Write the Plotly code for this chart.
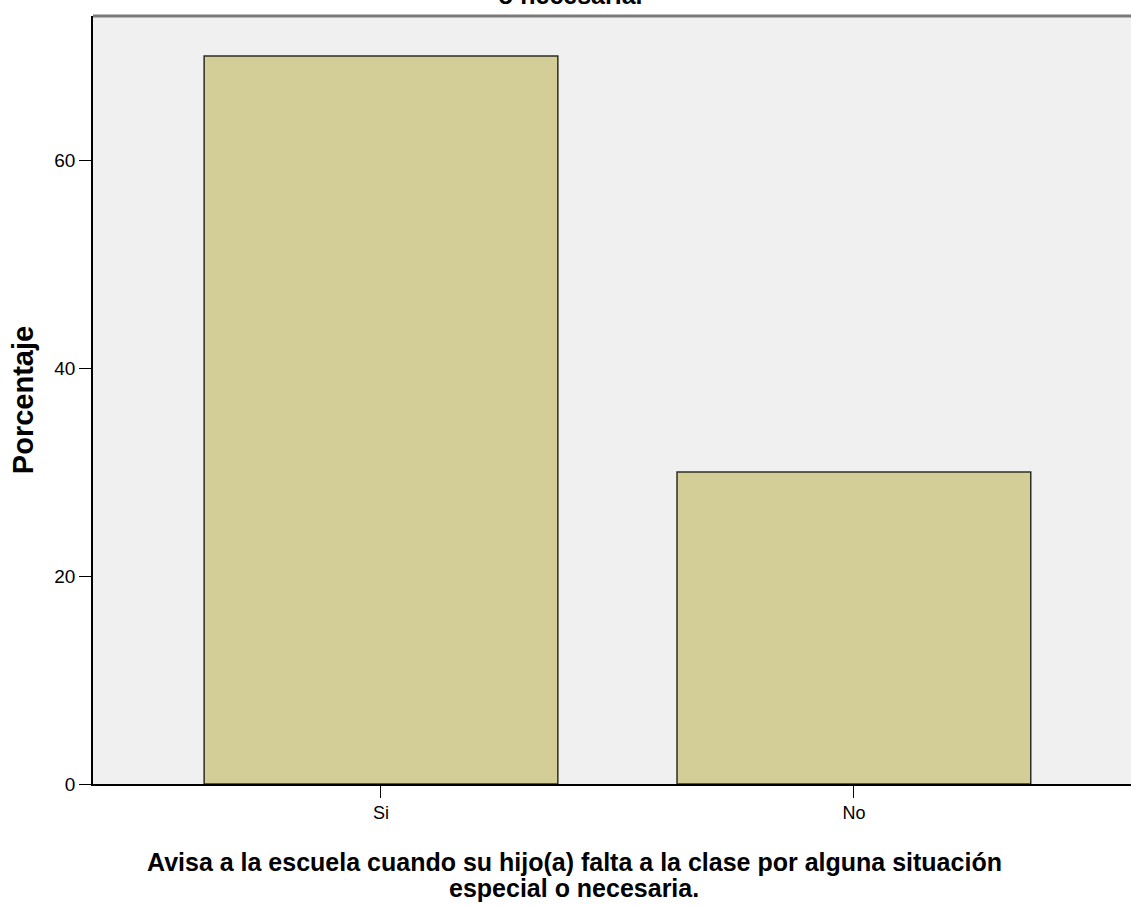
import plotly.graph_objects as go

categories = ["Si", "No"]
percentages = [70.0, 30.0]
y_ticks = [0, 20, 40, 60]

x_title_lines = ["Avisa a la escuela cuando su hijo(a) falta a la clase por alguna situación",
                 "especial o necesaria."]
top_title = "Avisa a la escuela cuando su hijo(a) falta a la clase por alguna situación especial<br>o necesaria."

W, H = 1131, 906
ml, mr, mt, mb = 93, 0, 16, 122
FONT = "Liberation Sans, Arial, sans-serif"

fig = go.Figure(go.Bar(
    x=categories, y=percentages, width=0.748,
    marker=dict(color="#D3CE97", line=dict(color="#2E2E22", width=1.5)),
))

x_center = (574 - ml) / (W - ml)

fig.update_layout(
    width=W, height=H,
    margin=dict(l=ml, r=mr, t=mt, b=mb, pad=0),
    paper_bgcolor="white", plot_bgcolor="#F0F0F0",
    showlegend=False,
    font=dict(family=FONT, color="black"),
    xaxis=dict(
        range=[-0.609, 1.586], showgrid=False, zeroline=False,
        showline=True, linecolor="black", linewidth=1.5,
        ticks="outside", ticklen=12, tickcolor="black", tickwidth=1.2,
        tickfont=dict(size=18),
    ),
    yaxis=dict(
        range=[0, 73.85], showgrid=False, zeroline=False,
        showline=True, linecolor="black", linewidth=1.5,
        tickvals=y_ticks, ticks="outside", ticklen=12, tickcolor="black", tickwidth=1.2,
        tickfont=dict(size=19),
        title=dict(text="Porcentaje", font=dict(size=29, weight="bold"), standoff=12),
    ),
    shapes=[dict(type="line", xref="paper", yref="paper", x0=0, x1=1, y0=1, y1=1,
                 line=dict(color="#7A7A7A", width=3))],
    annotations=[
        dict(text=top_title, xref="paper", yref="paper",
             x=(570 - ml) / (W - ml), y=1, yshift=5,
             xanchor="center", yanchor="bottom", showarrow=False,
             font=dict(size=25, weight="bold")),
        dict(text=x_title_lines[0], xref="paper", yref="paper", x=x_center, y=0,
             yshift=-78, xanchor="center", yanchor="middle", showarrow=False,
             font=dict(size=25, weight="bold")),
        dict(text=x_title_lines[1], xref="paper", yref="paper", x=x_center, y=0,
             yshift=-104, xanchor="center", yanchor="middle", showarrow=False,
             font=dict(size=25, weight="bold")),
    ],
)

fig.write_html("out.html", config={"displayModeBar": False},
               post_script="document.body.style.margin='0px';document.body.style.padding='0px';")
